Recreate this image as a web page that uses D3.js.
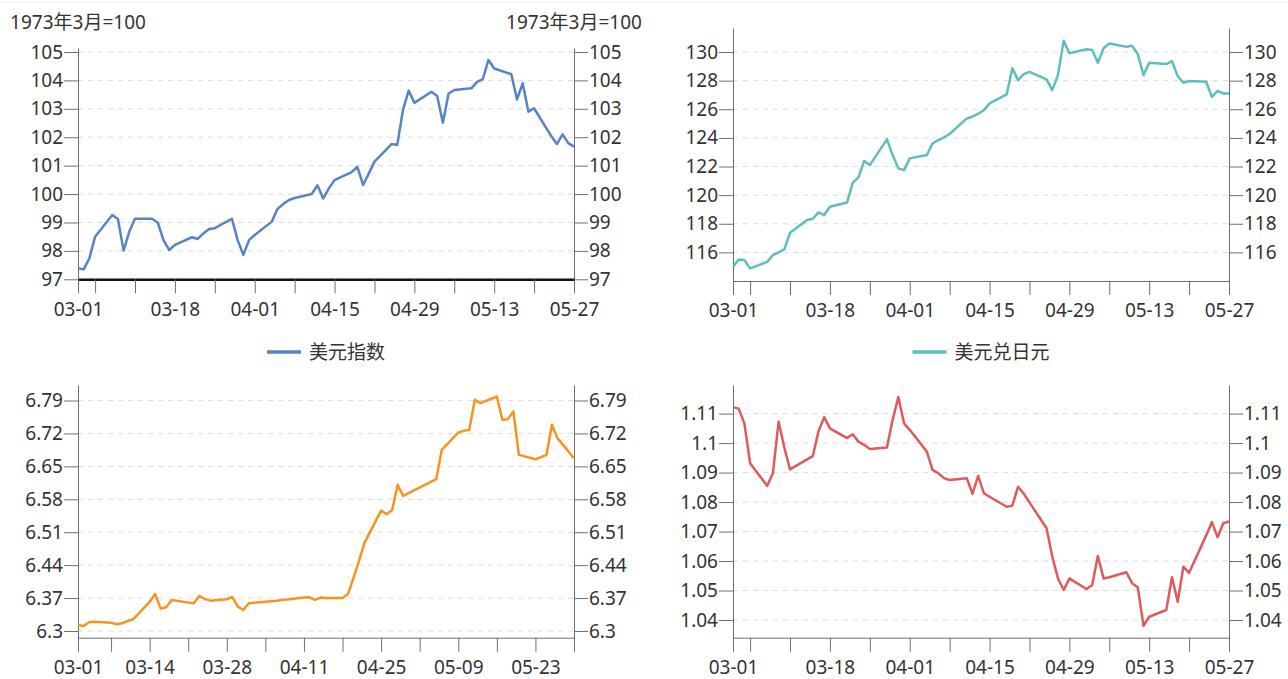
<!DOCTYPE html>
<html>
<head>
<meta charset="utf-8">
<script src="https://cdn.jsdelivr.net/npm/d3@7/dist/d3.min.js"></script>
<style>
  body { margin: 0; background: #fff; }
  text { font-family: "Noto Sans", "Noto Sans CJK SC", sans-serif; fill: #333; }
</style>
</head>
<body>
<div class="canvas"></div>
<script>
// trading days (Mar 1 - May 27, 2022)
const bizDays = ['03-01','03-02','03-03','03-04','03-07','03-08','03-09','03-10','03-11','03-14','03-15','03-16','03-17','03-18','03-21','03-22','03-23','03-24','03-25','03-28','03-29','03-30','03-31',
  '04-01','04-04','04-05','04-06','04-07','04-08','04-11','04-12','04-13','04-14','04-15','04-18','04-19','04-20','04-21','04-22','04-25','04-26','04-27','04-28','04-29',
  '05-02','05-03','05-04','05-05','05-06','05-09','05-10','05-11','05-12','05-13','05-16','05-17','05-18','05-19','05-20','05-23','05-24','05-25','05-26','05-27'];

const dxy = [97.39,97.35,97.74,98.50,99.26,99.12,98.01,98.68,99.13,99.13,98.99,98.38,98.03,98.21,98.48,98.42,98.62,98.77,98.80,99.13,98.38,97.86,98.38,
  98.56,99.03,99.48,99.65,99.79,99.86,100.00,100.31,99.84,100.20,100.49,100.77,100.96,100.32,100.72,101.14,101.76,101.73,102.96,103.64,103.21,
  103.60,103.45,102.51,103.54,103.66,103.72,103.95,104.04,104.72,104.42,104.22,103.33,103.90,102.90,103.02,102.04,101.76,102.10,101.79,101.67];

const usdjpy = [114.99,115.51,115.46,114.88,115.34,115.81,116.00,116.21,117.37,118.26,118.35,118.79,118.61,119.19,119.48,120.86,121.24,122.38,122.10,123.90,122.80,121.87,121.75,
  122.57,122.80,123.62,123.85,124.04,124.27,125.36,125.48,125.69,125.94,126.41,127.04,128.86,128.04,128.46,128.62,128.09,127.34,128.39,130.79,129.91,
  130.19,130.14,129.25,130.26,130.60,130.37,130.44,129.86,128.39,129.25,129.16,129.37,128.32,127.85,127.97,127.92,126.87,127.29,127.11,127.11];

const eurusd = [1.1122,1.1117,1.1067,1.0932,1.0855,1.0898,1.1073,1.0985,1.0911,1.0945,1.0956,1.1040,1.1088,1.1050,1.1017,1.1030,1.1005,1.0994,1.0980,1.0985,1.1079,1.1156,1.1067,
  1.1045,1.0971,1.0909,1.0898,1.0881,1.0875,1.0881,1.0828,1.0889,1.0830,1.0818,1.0784,1.0788,1.0852,1.0828,1.0799,1.0711,1.0615,1.0541,1.0502,1.0541,
  1.0505,1.0519,1.0617,1.0541,1.0545,1.0562,1.0525,1.0511,1.0380,1.0411,1.0434,1.0545,1.0462,1.0581,1.0560,1.0687,1.0732,1.0681,1.0728,1.0734];

// onshore CNY trading days
const cnyDays = ['03-01','03-02','03-03','03-04','03-07','03-08','03-09','03-10','03-11','03-14','03-15','03-16','03-17','03-18','03-21','03-22','03-23','03-24','03-25','03-28','03-29','03-30','03-31',
  '04-01','04-06','04-07','04-08','04-11','04-12','04-13','04-14','04-15','04-18','04-19','04-20','04-21','04-22','04-25','04-26','04-27','04-28','04-29',
  '05-05','05-06','05-09','05-10','05-11','05-12','05-13','05-16','05-17','05-18','05-19','05-20','05-23','05-24','05-25','05-26','05-27','05-30'];
const usdcny = [6.3128,6.3106,6.3185,6.3198,6.3177,6.3142,6.3163,6.3213,6.3248,6.3620,6.3787,6.3475,6.3504,6.3660,6.3603,6.3589,6.3745,6.3680,6.3645,6.3674,6.3723,6.3518,6.3447,
  6.3590,6.3645,6.3660,6.3667,6.3710,6.3716,6.3660,6.3710,6.3702,6.3702,6.3787,6.4135,6.4497,6.4879,6.5560,6.5480,6.5574,6.6106,6.5872,
  6.6227,6.6851,6.7220,6.7255,6.7277,6.7915,6.7844,6.7986,6.7490,6.7504,6.7667,6.6745,6.6652,6.6695,6.6745,6.7383,6.7100,6.6674];

// axis ticks
const weekTicksA = ['03-01','03-04','03-11','03-18','03-25','04-01','04-08','04-15','04-22','04-29','05-06','05-13','05-20','05-27'];
const weekLabelsA = ['03-01','03-18','04-01','04-15','04-29','05-13','05-27'];
const weekTicksB = ['03-01','03-07','03-14','03-21','03-28','04-04','04-11','04-18','04-25','05-02','05-09','05-16','05-23','05-30'];
const weekLabelsB = ['03-01','03-14','03-28','04-11','04-25','05-09','05-23'];

const dxyTicks = [97,98,99,100,101,102,103,104,105];
const jpyTicks = [116,118,120,122,124,126,128,130];
const cnyTicks = [6.3,6.37,6.44,6.51,6.58,6.65,6.72,6.79];
const eurTicks = [1.04,1.05,1.06,1.07,1.08,1.09,1.1,1.11];

const parse = d3.timeParse('%Y-%m-%d');
const day = s => parse('2022-' + s);

const svg = d3.select('.canvas')
  .append('svg')
  .attr('width', 1288)
  .attr('height', 679);

svg.append('line')
  .attr('x1', 0).attr('x2', 1288).attr('y1', 2).attr('y2', 2)
  .attr('stroke', '#ececec');

const panels = [
  { days: bizDays, vals: dxy, colour: '#5585c4', xr: [78, 574], yr: [279.3, 48], ydom: [97, 105.14],
    xdom: ['03-01', '05-27'], ticks: weekTicksA, labels: weekLabelsA, yticks: dxyTicks,
    legend: '美元指数', unit: '1973年3月=100', blackBase: true },
  { days: bizDays, vals: usdjpy, colour: '#5dbfbd', xr: [733, 1229], yr: [281, 28], ydom: [114, 131.68],
    xdom: ['03-01', '05-27'], ticks: weekTicksA, labels: weekLabelsA, yticks: jpyTicks,
    legend: '美元兑日元' },
  { days: cnyDays, vals: usdcny, colour: '#f7931e', xr: [78, 574], yr: [637.7, 385], ydom: [6.2857, 6.823],
    xdom: ['03-01', '05-30'], ticks: weekTicksB, labels: weekLabelsB, yticks: cnyTicks },
  { days: bizDays, vals: eurusd, colour: '#df5a5a', xr: [733, 1229], yr: [637.7, 385], ydom: [1.034, 1.1197],
    xdom: ['03-01', '05-27'], ticks: weekTicksA, labels: weekLabelsA, yticks: eurTicks }
];

const fmtDay = d3.timeFormat('%m-%d');

panels.forEach(p => {
  const x = d3.scaleTime().domain(p.xdom.map(day)).range(p.xr);
  const y = d3.scaleLinear().domain(p.ydom).range(p.yr);
  const g = svg.append('g');

  // dashed grid
  g.selectAll('.grid').data(p.yticks).enter()
    .append('line')
    .attr('x1', p.xr[0]).attr('x2', p.xr[1])
    .attr('y1', d => y(d)).attr('y2', d => y(d))
    .attr('stroke', '#dcdcdc')
    .attr('stroke-dasharray', '5,5');

  const styleAxis = sel => {
    sel.selectAll('path, line').attr('stroke', '#6e6e6e');
    sel.selectAll('text').attr('font-size', 19).attr('fill', '#333');
  };

  // y axes both sides
  g.append('g')
    .attr('transform', `translate(${p.xr[0]},0)`)
    .call(d3.axisLeft(y).tickValues(p.yticks).tickSize(14).tickSizeOuter(0).tickPadding(1).tickFormat(d => String(+d.toFixed(2))))
    .call(styleAxis);
  g.append('g')
    .attr('transform', `translate(${p.xr[1]},0)`)
    .call(d3.axisRight(y).tickValues(p.yticks).tickSize(14).tickSizeOuter(0).tickPadding(1).tickFormat(d => String(+d.toFixed(2))))
    .call(styleAxis);

  // x axis
  const labelSet = new Set(p.labels);
  const xa = g.append('g')
    .attr('transform', `translate(0,${p.yr[0]})`)
    .call(d3.axisBottom(x).tickValues(p.ticks.map(day)).tickSize(14).tickSizeOuter(0).tickPadding(9)
      .tickFormat(d => labelSet.has(fmtDay(d)) ? fmtDay(d) : ''))
    .call(styleAxis);
  if (p.blackBase) {
    xa.select('.domain').attr('stroke', '#1a1010').attr('stroke-width', 2.5);
  }

  // series
  const line = d3.line()
    .x((d, i) => x(day(p.days[i])))
    .y(d => y(d));
  g.append('path')
    .datum(p.vals)
    .attr('fill', 'none')
    .attr('stroke', p.colour)
    .attr('stroke-width', 2.5)
    .attr('stroke-linejoin', 'round')
    .attr('d', line);

  if (p.unit) {
    [p.xr[0], p.xr[1]].forEach(ax => {
      g.append('text')
        .attr('x', ax).attr('y', 29)
        .attr('text-anchor', 'middle')
        .attr('font-size', 19)
        .text(p.unit);
    });
  }

  if (p.legend) {
    const mid = (p.xr[0] + p.xr[1]) / 2;
    const lg = g.append('g');
    const txt = lg.append('text')
      .attr('y', 359)
      .attr('font-size', 19)
      .text(p.legend);
    const tw = txt.node().getComputedTextLength();
    const total = 34 + 8 + tw;
    const sx = mid - total / 2;
    lg.append('line')
      .attr('x1', sx).attr('x2', sx + 34)
      .attr('y1', 352).attr('y2', 352)
      .attr('stroke', p.colour)
      .attr('stroke-width', 3.5);
    txt.attr('x', sx + 42);
  }
});
</script>
</body>
</html>
